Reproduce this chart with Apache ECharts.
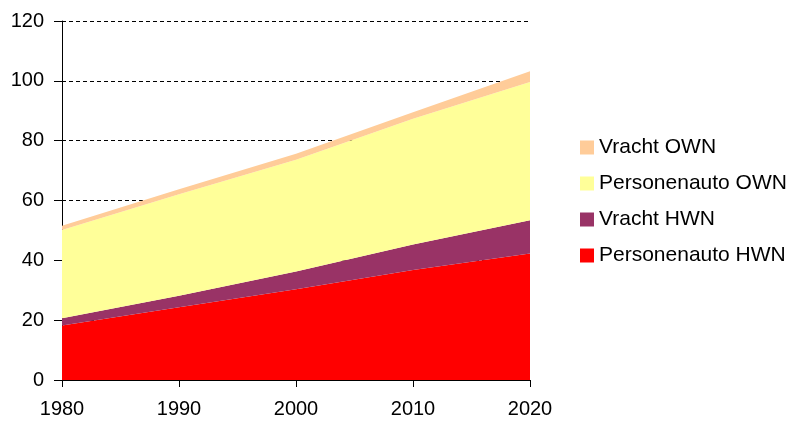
<!DOCTYPE html>
<html>
<head>
<meta charset="utf-8">
<script src="https://cdn.jsdelivr.net/npm/echarts@6/dist/echarts.min.js"></script>
<style>
  html, body { margin: 0; padding: 0; background: #fff; }
  #chart { width: 801px; height: 426px; }
</style>
</head>
<body>
<div id="chart"></div>
<script>
// jaren (x-as)
const years = ['1980', '1990', '2000', '2010', '2020'];
// waarden per categorie (gestapeld)
const personenautoHWN = [18.2, 24.3, 30.3, 36.8, 42.3];
const vrachtHWN = [2.4, 3.9, 6.0, 8.5, 11.1];
const personenautoOWN = [29.5, 33.9, 37.3, 42.0, 46.2];
const vrachtOWN = [1.5, 1.7, 2.0, 2.2, 3.6];
const yTicks = [0, 20, 40, 60, 80, 100, 120];

const font = 'Liberation Sans, Arial, sans-serif';

function areaSeries(name, values, color) {
  return {
    name: name,
    type: 'line',
    stack: 'total',
    showSymbol: false,
    lineStyle: { width: 0 },
    itemStyle: { color: color },
    areaStyle: { color: color, opacity: 1 },
    data: values,
  };
}

const chart = echarts.init(document.getElementById('chart'));
chart.setOption({
  animation: false,
  grid: { left: 62, right: 271, top: 21, bottom: 46 },
  legend: {
    orient: 'vertical',
    left: 580,
    top: 137,
    padding: 0,
    itemWidth: 14,
    itemHeight: 14,
    itemGap: 15,
    icon: 'rect',
    textStyle: { fontFamily: font, fontSize: 21, color: '#000', padding: [0, 0, 0, 0] },
    data: ['Vracht OWN', 'Personenauto OWN', 'Vracht HWN', 'Personenauto HWN'],
  },
  xAxis: {
    type: 'category',
    boundaryGap: false,
    data: years,
    axisLine: { lineStyle: { color: '#000', width: 1 } },
    axisTick: { show: true, length: 7, lineStyle: { color: '#000' } },
    axisLabel: { fontFamily: font, fontSize: 20, color: '#000', margin: 19 },
    splitLine: { show: false },
  },
  yAxis: {
    type: 'value',
    min: yTicks[0],
    max: yTicks[yTicks.length - 1],
    interval: 20,
    axisLine: { show: true, lineStyle: { color: '#000', width: 1 } },
    axisTick: { show: true, length: 8, lineStyle: { color: '#000' } },
    axisLabel: { fontFamily: font, fontSize: 20, color: '#000', margin: 18 },
    splitLine: { show: true, lineStyle: { color: '#000', type: [4, 3], width: 1 } },
  },
  series: [
    areaSeries('Personenauto HWN', personenautoHWN, '#ff0000'),
    areaSeries('Vracht HWN', vrachtHWN, '#993366'),
    areaSeries('Personenauto OWN', personenautoOWN, '#ffff99'),
    areaSeries('Vracht OWN', vrachtOWN, '#ffcc99'),
  ],
});
</script>
</body>
</html>
